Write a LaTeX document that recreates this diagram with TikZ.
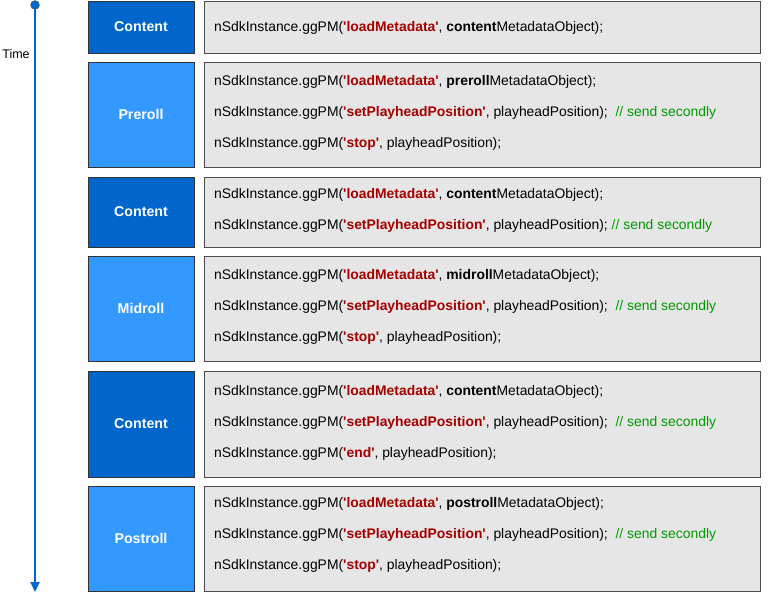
\documentclass[tikz,border=0pt]{standalone}
\usepackage{fontspec}
\setmainfont{Liberation Sans}
\usetikzlibrary{arrows.meta}
\definecolor{dkb}{HTML}{0066CC}
\definecolor{ltb}{HTML}{3399FF}
\definecolor{cg}{HTML}{E6E6E6}
\definecolor{kr}{HTML}{A50000}
\definecolor{cm}{HTML}{009900}
\newcommand{\K}[1]{\textcolor{kr}{\textbf{\textquotesingle#1\textquotesingle}}}
\newcommand{\C}{\textcolor{cm}{// send secondly}}
\newcommand{\G}{nSdkInstance.ggPM(}
\begin{document}
\begin{tikzpicture}[x=1pt,y=-1pt,
 lab/.style={draw=black!80,line width=0.8pt,text=white,font=\fontsize{14.2}{16}\selectfont\bfseries,inner sep=0pt},
 code/.style={draw=black!70,line width=0.8pt,fill=cg,inner sep=0pt},
 ln/.style={anchor=west,font=\fontsize{13.9}{16}\selectfont,inner sep=0pt}]
\useasboundingbox (0,0) rectangle (770,600);
\path[fill=white] (0,0) rectangle (770,600);
% timeline
\coordinate (ts) at (35,5);
\coordinate (te) at (35,592);
\draw[dkb,line width=1.8pt,-{Triangle[width=9pt,length=10pt]}] (ts) -- (te);
\node[circle,fill=dkb,draw=black!60,inner sep=0pt,minimum size=9pt] (dot) at (ts) {};
\node[font=\fontsize{12.5}{14}\selectfont] (time) at (16,54) {Time};
% blocks
\foreach \n/\t/\b/\c/\txt in {a/1/53/dkb/Content,b/62/167/ltb/Preroll,c/177/247/dkb/Content,d/256/361/ltb/Midroll,e/371/477/dkb/Content,f/486/591/ltb/Postroll}{
 \pgfmathsetmacro\hh{\b-\t}
 \pgfmathsetmacro\mm{(\t+\b)/2}
 \node[lab,fill=\c,minimum width=106pt,minimum height=\hh pt] (l\n) at (141,\mm) {\txt};
 \node[code,minimum width=556pt,minimum height=\hh pt] (c\n) at (482,\mm) {};
}
\node[ln] (a1) at (214,28) {\G\K{loadMetadata}, \textbf{content}MetadataObject);};
\node[ln] (b1) at (214,82) {\G\K{loadMetadata}, \textbf{preroll}MetadataObject);};
\node[ln] (b2) at (214,113) {\G\K{setPlayheadPosition}, playheadPosition);\ \ \C};
\node[ln] (b3) at (214,144) {\G\K{stop}, playheadPosition);};
\node[ln] (c1) at (214,195) {\G\K{loadMetadata}, \textbf{content}MetadataObject);};
\node[ln] (c2) at (214,226) {\G\K{setPlayheadPosition}, playheadPosition); \C};
\node[ln] (d1) at (214,276) {\G\K{loadMetadata}, \textbf{midroll}MetadataObject);};
\node[ln] (d2) at (214,307) {\G\K{setPlayheadPosition}, playheadPosition);\ \ \C};
\node[ln] (d3) at (214,338) {\G\K{stop}, playheadPosition);};
\node[ln] (e1) at (214,392) {\G\K{loadMetadata}, \textbf{content}MetadataObject);};
\node[ln] (e2) at (214,423) {\G\K{setPlayheadPosition}, playheadPosition);\ \ \C};
\node[ln] (e3) at (214,454) {\G\K{end}, playheadPosition);};
\node[ln] (f1) at (214,504) {\G\K{loadMetadata}, \textbf{postroll}MetadataObject);};
\node[ln] (f2) at (214,535) {\G\K{setPlayheadPosition}, playheadPosition);\ \ \C};
\node[ln] (f3) at (214,566) {\G\K{stop}, playheadPosition);};
\end{tikzpicture}
\end{document}
